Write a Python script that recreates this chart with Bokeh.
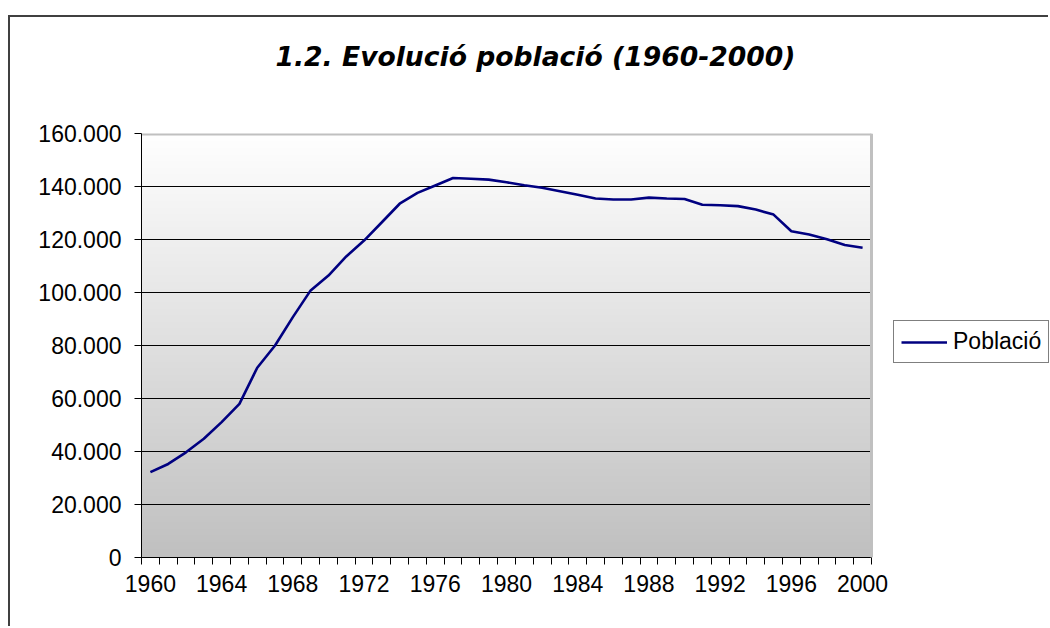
import numpy as np
from bokeh.plotting import figure
from bokeh.models import (Range1d, FixedTicker, Legend, LegendItem, Title, Span)
from bokeh.embed import file_html
from bokeh.resources import INLINE

# ---- data ----
years = list(range(1960, 2001))
poblacio = [32200, 35300, 39700, 44800, 51100, 58000, 71600, 80000, 90700, 100800,
            106400, 113600, 119600, 126500, 133500, 137600, 140400, 143200, 142900, 142600,
            141600, 140500, 139500, 138200, 136900, 135500, 135100, 135100, 135800, 135500,
            135300, 133100, 132900, 132600, 131300, 129400, 123100, 121900, 120100, 117900,
            116900]
x_tick_years = [1960, 1964, 1968, 1972, 1976, 1980, 1984, 1988, 1992, 1996, 2000]
y_ticks = [0, 20000, 40000, 60000, 80000, 100000, 120000, 140000, 160000]
y_tick_labels = ["0", "20.000", "40.000", "60.000", "80.000", "100.000",
                 "120.000", "140.000", "160.000"]
title_text = "1.2. Evolució població (1960-2000)"
series_name = "Població"

FONT = "Liberation Sans"

# layout (pixels)
W, H = 1040, 611
LEFT, TOP, BOTTOM = 131, 116, 71
PLOT_W = 730            # width of the shaded plot area
FRAME_W = W - LEFT      # frame extends under the legend area

x_start = years[0] - 0.5
x_end = years[-1] + 0.5
x_range_end = x_start + (x_end - x_start) * FRAME_W / PLOT_W

p = figure(width=W, height=H, output_backend="svg", toolbar_location=None,
           x_range=Range1d(x_start, x_range_end),
           y_range=Range1d(y_ticks[0], y_ticks[-1]),
           min_border_left=LEFT, min_border_right=0, min_border_top=TOP,
           min_border_bottom=BOTTOM,
           styles={"margin-left": "8px", "margin-top": "15px",
                   "border-left": "2px solid #404040", "border-top": "2px solid #404040"})

p.background_fill_color = "white"
p.border_fill_color = "white"
p.outline_line_color = None

# gradient background of plot area (white top -> grey bottom)
n = 256
t = np.linspace(0, 1, n)  # 0 bottom, 1 top
top_c = np.array([255, 255, 255])
bot_c = np.array([192, 192, 192])
img = np.empty((n, 1), dtype=np.uint32)
view = img.view(dtype=np.uint8).reshape((n, 1, 4))
for i in range(n):
    c = bot_c + (top_c - bot_c) * t[i]
    view[i, 0, 0] = int(c[0]); view[i, 0, 1] = int(c[1]); view[i, 0, 2] = int(c[2]); view[i, 0, 3] = 255
p.image_rgba(image=[img], x=x_start, y=y_ticks[0], dw=x_end - x_start,
             dh=y_ticks[-1] - y_ticks[0], level="image")

# grid lines limited to the shaded area
p.xgrid.grid_line_color = None
p.ygrid.grid_line_color = None
inner = y_ticks[1:-1]
p.segment(x0=[x_start] * len(inner), x1=[x_end] * len(inner), y0=inner, y1=inner,
          line_color="black", line_width=1)
# grey plot-area border (top and right)
p.segment(x0=[x_start], x1=[x_end], y0=[y_ticks[-1]], y1=[y_ticks[-1]],
          line_color="#c0c0c0", line_width=4)
p.add_layout(Span(location=x_end, dimension="height", line_color="#c0c0c0", line_width=3))

# line
r = p.line(years, poblacio, line_color="#000080", line_width=2.6)

# axes
xax = p.xaxis[0]
xax.bounds = (x_start, x_end)
xax.ticker = FixedTicker(ticks=x_tick_years,
                         minor_ticks=[y - 0.5 for y in years] + [years[-1] + 0.5])
xax.major_tick_line_color = None
xax.minor_tick_line_color = "black"
xax.minor_tick_out = 7
xax.minor_tick_in = 0
xax.axis_line_color = "black"
xax.axis_line_width = 1
xax.major_label_text_font = FONT
xax.major_label_text_font_size = "23px"
xax.major_label_text_color = "black"
xax.major_label_standoff = 10

yax = p.yaxis[0]
yax.ticker = FixedTicker(ticks=y_ticks)
yax.major_label_overrides = {v: s for v, s in zip(y_ticks, y_tick_labels)}
yax.major_tick_line_color = "black"
yax.major_tick_out = 7
yax.major_tick_in = 0
yax.minor_tick_line_color = None
yax.axis_line_color = "black"
yax.major_label_text_font = FONT
yax.major_label_text_font_size = "23px"
yax.major_label_text_color = "black"
yax.major_label_standoff = 13

# title (trailing blank line lifts it within the top margin)
p.add_layout(Title(text=title_text + "\n ", text_font="DejaVu Sans",
                   text_font_style="bold italic", text_font_size="26.6px",
                   text_line_height=1.4, text_color="black", align="left",
                   offset=134, standoff=36), "above")

# legend (to the right of the shaded area)
legend = Legend(items=[LegendItem(label=series_name, renderers=[r])],
                location=(PLOT_W + 22, 194), border_line_color="black", border_line_width=1,
                background_fill_color="white", background_fill_alpha=1,
                label_text_font=FONT, label_text_font_size="23px",
                label_text_color="black", glyph_width=46, glyph_height=24,
                padding=7, label_standoff=6, margin=0, spacing=0)
p.add_layout(legend, "center")

open("out.html", "w").write(file_html(p, INLINE))
